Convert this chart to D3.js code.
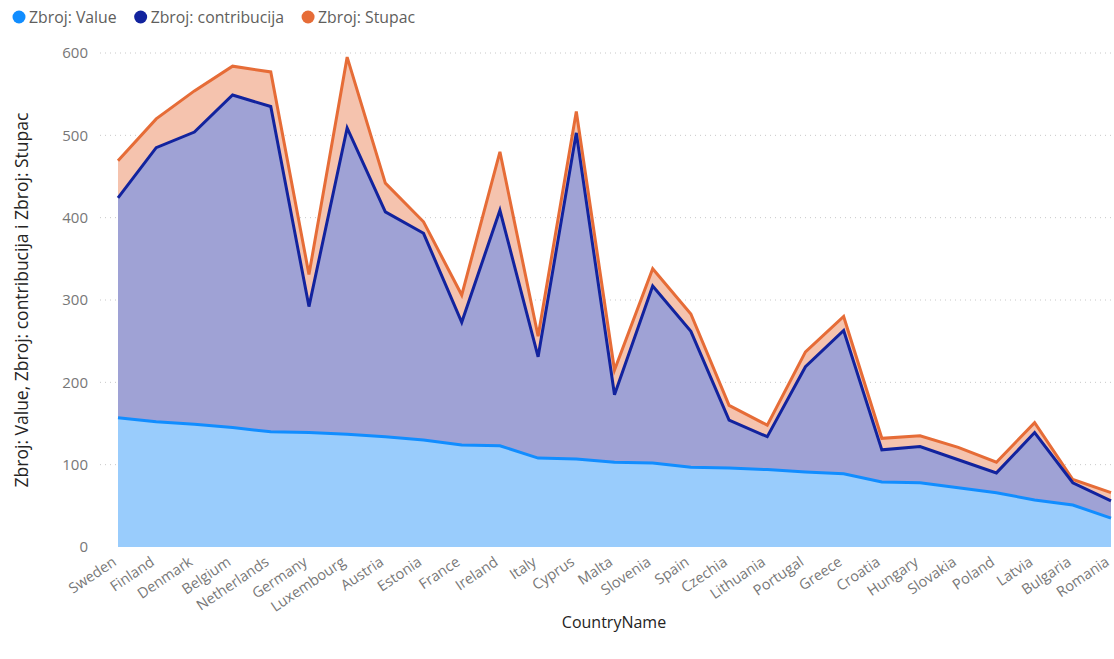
<!DOCTYPE html>
<html><head><meta charset="utf-8">
<script src="https://cdn.jsdelivr.net/npm/d3@7"></script>
<style>
body{margin:0;background:#fff;}
text{font-family:"Segoe UI","Open Sans","Noto Sans",sans-serif;}
</style></head>
<body>
<svg id="chart" width="1114" height="659"></svg>
<script>
const countries = ["Sweden","Finland","Denmark","Belgium","Netherlands","Germany","Luxembourg","Austria","Estonia","France","Ireland","Italy","Cyprus","Malta","Slovenia","Spain","Czechia","Lithuania","Portugal","Greece","Croatia","Hungary","Slovakia","Poland","Latvia","Bulgaria","Romania"];
const valueSeries = [157,152,149,145,140,139,137,134,130,124,123,108,107,103,102,97,96,94,91,89,79,78,72,66,57,51,35];
const contribucija = [424,485,504,549,535,292,509,407,381,273,409,231,503,185,317,262,154,134,219,263,118,122,106,90,139,78,56];
const stupac = [469,520,554,584,577,331,595,442,395,306,480,256,529,215,338,283,172,148,237,280,132,135,121,103,151,82,66];
const yTicks = [0,100,200,300,400,500,600];
const legendLabels = ["Zbroj: Value","Zbroj: contribucija","Zbroj: Stupac"];

const svg = d3.select("#chart");
const x = d3.scalePoint().domain(countries).range([118,1111]);
const y = d3.scaleLinear().domain([0,600]).range([547,53]);

// gridlines
svg.append("g").selectAll("line").data(yTicks.filter(d=>d>0)).join("line")
  .attr("x1",100).attr("x2",1114).attr("y1",d=>y(d)).attr("y2",d=>y(d))
  .attr("stroke","#c8c8c8").attr("stroke-width",1).attr("stroke-dasharray","1,4");

const series = [
  {vals:stupac, fill:"#F5C3AE", stroke:"#E66C37"},
  {vals:contribucija, fill:"#9FA2D5", stroke:"#12239E"},
  {vals:valueSeries, fill:"#99CCFC", stroke:"#118DFF"}
];
const area = d3.area().x((d,i)=>x(countries[i])).y0(y(0)).y1(d=>y(d));
const line = d3.line().x((d,i)=>x(countries[i])).y(d=>y(d));
series.forEach(s=>{
  svg.append("path").attr("d",area(s.vals)).attr("fill",s.fill);
});
series.forEach(s=>{
  svg.append("path").attr("d",line(s.vals)).attr("fill","none").attr("stroke",s.stroke)
    .attr("stroke-width",3).attr("stroke-linejoin","miter");
});

// y axis
const yAxis = d3.axisLeft(y).tickValues(yTicks).tickSize(0).tickPadding(0);
const gy = svg.append("g").attr("transform","translate(88,0)").call(yAxis);
gy.select(".domain").remove();
gy.selectAll("text").attr("fill","#777").style("font-size","15px");

// x axis
const xAxis = d3.axisBottom(x).tickSize(0).tickPadding(0);
const gx = svg.append("g").attr("transform","translate(-4,553)").call(xAxis);
gx.select(".domain").remove();
gx.selectAll("text").attr("fill","#777").style("font-size","14.5px")
  .attr("text-anchor","end").attr("dy","0.75em").attr("x",-4)
  .attr("transform","rotate(-34)");

// axis titles
svg.append("text").attr("x",614).attr("y",628).attr("text-anchor","middle")
  .attr("fill","#252423").style("font-size","16px").text("CountryName");
svg.append("text").attr("transform","translate(28,300) rotate(-90)").attr("text-anchor","middle")
  .attr("fill","#252423").style("font-size","17.5px").style("font-weight","500")
  .text("Zbroj: Value, Zbroj: contribucija i Zbroj: Stupac");

// legend
const legColors = ["#118DFF","#12239E","#E66C37"];
let lx = 13;
const lg = svg.append("g");
legendLabels.forEach((l,i)=>{
  lg.append("circle").attr("cx",lx+6).attr("cy",17).attr("r",6.5).attr("fill",legColors[i]);
  const t = lg.append("text").attr("x",lx+16).attr("y",22.5).attr("fill","#605E5C")
    .style("font-size","15.8px").text(l);
  lx += 16 + t.node().getComputedTextLength() + 18;
});
</script>
</body></html>
